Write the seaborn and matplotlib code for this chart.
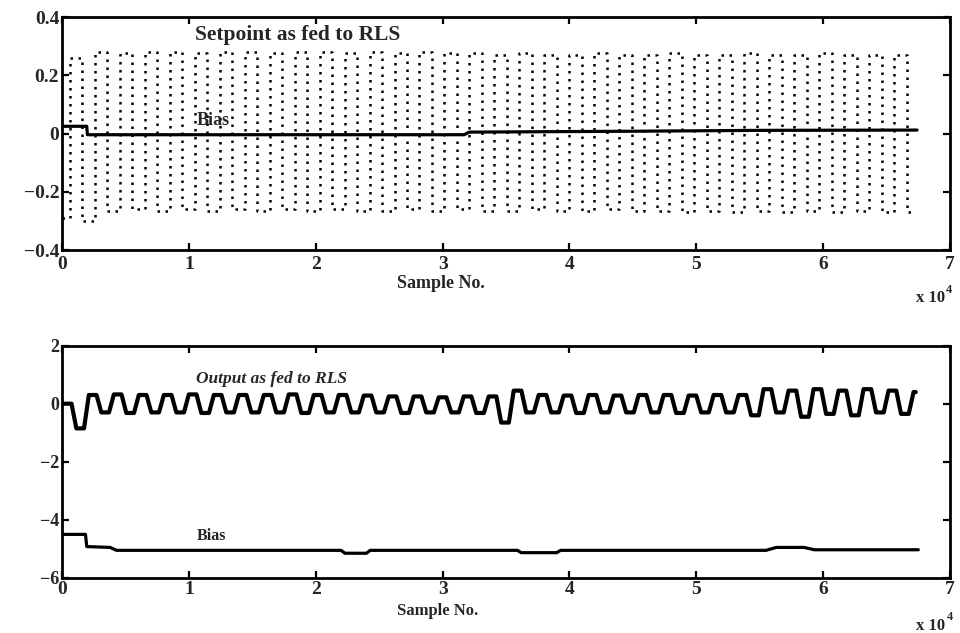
import numpy as np
import pandas as pd
import matplotlib
matplotlib.use("Agg")
import matplotlib.pyplot as plt
import seaborn as sns

# ---------------- data ----------------
half_period = 985          # samples between setpoint switches
first_switch = 600
end_sample = 67000

# setpoint levels (low segments, high segments)
sp_low = [-0.29, -0.30, -0.265, -0.26, -0.265, -0.26, -0.265, -0.26, -0.265, -0.26,
          -0.265, -0.26, -0.265, -0.265, -0.26, -0.265, -0.26, -0.265, -0.265, -0.26,
          -0.265, -0.265, -0.26, -0.265, -0.265, -0.27, -0.265, -0.27, -0.265, -0.27,
          -0.265, -0.27, -0.265, -0.27, -0.27]
sp_high = [0.26, 0.28, 0.275, 0.28, 0.28, 0.275, 0.28, 0.28, 0.275, 0.28,
           0.28, 0.275, 0.28, 0.275, 0.28, 0.275, 0.275, 0.27, 0.275, 0.27,
           0.27, 0.275, 0.27, 0.27, 0.275, 0.27, 0.27, 0.275, 0.27, 0.27,
           0.275, 0.27, 0.27, 0.27]

# bias in top panel
bias_top_t = [0, 1950, 2000, 31700, 32100, 45000, 55000, 67400]
bias_top_y = [0.025, 0.025, -0.004, -0.004, 0.005, 0.008, 0.011, 0.012]

# output as fed to RLS (per segment levels)
out_lag = 150
out_ramp = 380
out_end = 67300
out_high = [0.0, 0.3, 0.32, 0.3, 0.3, 0.32, 0.3, 0.3, 0.3, 0.32,
            0.3, 0.3, 0.28, 0.25, 0.25, 0.22, 0.25, 0.25, 0.45, 0.3,
            0.28, 0.3, 0.28, 0.3, 0.3, 0.28, 0.3, 0.3, 0.5, 0.45,
            0.5, 0.45, 0.5, 0.45, 0.4]
out_low = [-0.85, -0.3, -0.32, -0.3, -0.3, -0.32, -0.3, -0.3, -0.3, -0.32,
           -0.3, -0.3, -0.3, -0.32, -0.3, -0.3, -0.32, -0.65, -0.3, -0.3,
           -0.32, -0.3, -0.3, -0.3, -0.32, -0.3, -0.3, -0.4, -0.3, -0.45,
           -0.35, -0.4, -0.3, -0.35]

# bias in bottom panel
bias_bot_t = [0, 1850, 1950, 3800, 4300, 22000, 22300, 24000, 24300,
              35900, 36200, 39000, 39300, 55500, 56300, 58500, 59300, 67500]
bias_bot_y = [-4.5, -4.5, -4.92, -4.95, -5.05, -5.05, -5.15, -5.15, -5.05,
              -5.05, -5.13, -5.13, -5.05, -5.05, -4.95, -4.95, -5.03, -5.03]

x_ticks = [0, 10000, 20000, 30000, 40000, 50000, 60000, 70000]
x_tick_labels = ["0", "1", "2", "3", "4", "5", "6", "7"]
top_y_ticks = [-0.4, -0.2, 0, 0.2, 0.4]
top_y_labels = ["\u22120.4", "\u22120.2", "0", "0.2", "0.4"]
bot_y_ticks = [-6, -4, -2, 0, 2]
bot_y_labels = ["\u22126", "\u22124", "\u22122", "0", "2"]

# ---------------- build tables ----------------
n_seg = len(sp_low) + len(sp_high)
sp_levels = [sp_low[i // 2] if i % 2 == 0 else sp_high[i // 2] for i in range(n_seg)]
bounds = [0] + [first_switch + half_period * k for k in range(n_seg - 1)] + [end_sample]
sp_t, sp_y = [], []
for i, lv in enumerate(sp_levels):
    sp_t += [bounds[i], bounds[i + 1]]
    sp_y += [lv, lv]
df_sp = pd.DataFrame({"t": sp_t, "y": sp_y})

out_levels = [out_high[i // 2] if i % 2 == 0 else out_low[i // 2] for i in range(n_seg)]
ob = [0] + [first_switch + half_period * k + out_lag for k in range(n_seg - 1)]
o_t, o_y = [0], [out_levels[0]]
for i in range(1, n_seg):
    o_t += [ob[i], ob[i] + out_ramp]
    o_y += [out_levels[i - 1], out_levels[i]]
o_t.append(out_end)
o_y.append(out_levels[-1])
df_out = pd.DataFrame({"t": o_t, "y": o_y})

df_bt = pd.DataFrame({"t": bias_top_t, "y": bias_top_y})
df_bb = pd.DataFrame({"t": bias_bot_t, "y": bias_bot_y})

# ---------------- style ----------------
sns.set_style("ticks")
plt.rcParams["font.family"] = ["Liberation Serif", "DejaVu Serif"]
plt.rcParams["font.weight"] = "bold"
plt.rcParams["axes.unicode_minus"] = True

fig = plt.figure(figsize=(9.6, 6.33), dpi=100)
ax1 = fig.add_axes([0.0646, 0.605, 0.925, 0.368])
ax2 = fig.add_axes([0.0646, 0.087, 0.925, 0.367])

sns.lineplot(data=df_sp, x="t", y="y", ax=ax1, estimator=None, sort=False,
             color="black", linewidth=1.8, linestyle=(0, (1, 2.2)))
sns.lineplot(data=df_bt, x="t", y="y", ax=ax1, estimator=None, sort=False,
             color="black", linewidth=2.3)
sns.lineplot(data=df_out, x="t", y="y", ax=ax2, estimator=None, sort=False,
             color="black", linewidth=3.0, solid_joinstyle="round")
sns.lineplot(data=df_bb, x="t", y="y", ax=ax2, estimator=None, sort=False,
             color="black", linewidth=2.3)

for ax, yt, yl, ylim, yfs, xpad in [(ax1, top_y_ticks, top_y_labels, (-0.4, 0.4), 14, 4),
                                    (ax2, bot_y_ticks, bot_y_labels, (-6, 2), 13, 2)]:
    ax.set_xlim(0, 70000)
    ax.set_ylim(*ylim)
    ax.set_xticks(x_ticks)
    ax.set_yticks(yt)
    ax.set_xlabel("")
    ax.set_ylabel("")
    ax.tick_params(direction="in", length=5, width=1.6, top=True, right=True,
                   color="black")
    ax.tick_params(axis="x", pad=xpad, labelsize=14)
    ax.tick_params(axis="y", pad=2, labelsize=yfs)
    ax.set_xticklabels(x_tick_labels, fontweight="bold")
    ax.set_yticklabels(yl, fontweight="bold")
    for sp in ax.spines.values():
        sp.set_visible(True)
        sp.set_linewidth(2.0)
        sp.set_color("black")
    ax.set_facecolor("white")

ax1.text(10500, 0.34, "Setpoint as fed to RLS", fontsize=15.5, fontweight="bold",
         ha="left", va="center")
ax1.text(10600, 0.045, "Bias", fontsize=13, fontweight="bold", ha="left", va="center")
ax2.text(10600, 0.85, "Output as fed to RLS", fontsize=12.5, fontweight="bold",
         fontstyle="italic", ha="left", va="center")
ax2.text(10600, -4.55, "Bias", fontsize=11.5, fontweight="bold", ha="left", va="center")

fig.text(441 / 960, 1 - 283 / 633, "Sample No.", fontsize=13, fontweight="bold",
         ha="center", va="center")
fig.text(438 / 960, 1 - 611 / 633, "Sample No.", fontsize=12, fontweight="bold",
         ha="center", va="center")
fig.text(945 / 960, 1 - 298 / 633, "x 10", fontsize=12, fontweight="bold",
         ha="right", va="center")
fig.text(946 / 960, 1 - 290 / 633, "4", fontsize=9, fontweight="bold",
         ha="left", va="center")
fig.text(945 / 960, 1 - 626 / 633, "x 10", fontsize=12, fontweight="bold",
         ha="right", va="center")
fig.text(947 / 960, 1 - 617 / 633, "4", fontsize=9, fontweight="bold",
         ha="left", va="center")

fig.savefig("out.png", dpi=100, facecolor="white")
